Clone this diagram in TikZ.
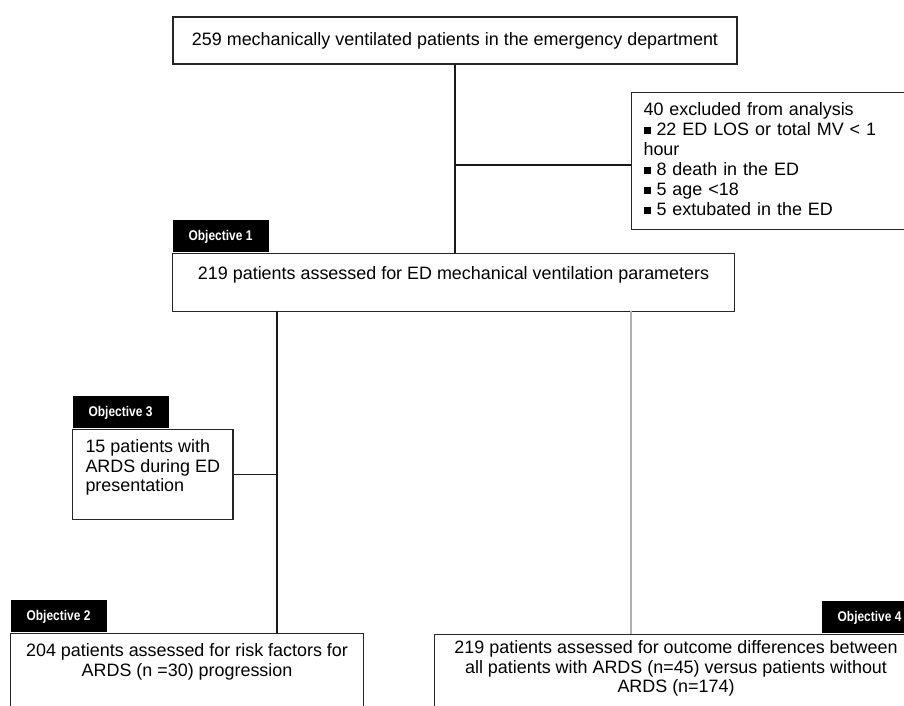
\documentclass[tikz,border=0pt]{standalone}
\usepackage{fontspec}
\setmainfont{Liberation Sans}
\newfontfamily\tabfont[FakeStretch=0.85]{Liberation Sans}
\usetikzlibrary{positioning}
\newcommand{\sqb}{\rule[0.03cm]{0.14cm}{0.14cm}~}

\begin{document}
\begin{tikzpicture}[
    % GLOBAL CFG
    font=\fontsize{10.2}{11.1}\selectfont,
    line width=0.6pt,
    % Styles
    box/.style={% For patient boxes
        rectangle,
        draw=black!85,
        line width=0.6pt,
        inner xsep=0.2cm,
    },
    objtab/.style={% For black objective tabs
        rectangle,
        fill=black,
        text=white,
        font=\tabfont\bfseries\fontsize{8}{9}\selectfont,
        minimum width=1.92cm,
        minimum height=0.64cm,
        inner sep=0pt,
    },
    flow/.style={% For black connectors
        draw=black!90,
        line width=0.6pt,
    },
    flowgray/.style={% For grey connector
        draw=black!30,
        line width=1.3pt,
    },
    ]
    % Page
    \useasboundingbox (0,0) rectangle (18.08,-14.10);
    \clip (0,0) rectangle (18.08,-14.10);

    % Draw boxes
    \node [box, minimum width=11.28cm, minimum height=0.94cm] (start) at (9.10,-0.81)
        {259 mechanically ventilated patients in the emergency department};
    \node [box, anchor=north west, align=left, text width=5.3cm, inner xsep=0.24cm,
        inner ysep=0.2cm, text depth=2.08cm,
        font=\fontsize{10.2}{11.4}\selectfont] (excl) at (12.62,-1.84)
        {40 excluded from analysis\\ \sqb 22 ED LOS or total MV < 1\\ hour\\
         \sqb 8 death in the ED\\ \sqb 5 age <18\\ \sqb 5 extubated in the ED};
    \node [box, anchor=north west, minimum width=11.24cm, inner ysep=0pt,
        text height=0.51cm, text depth=0.65cm] (obj1) at (3.44,-5.06)
        {219 patients assessed for ED mechanical ventilation parameters};
    \node [box, anchor=north west, align=left, minimum width=3.2cm, inner xsep=0.26cm,
        inner ysep=0.2cm, text depth=0.36cm] (obj3) at (1.44,-8.58)
        {15 patients with\\ ARDS during ED\\ presentation};
    \node [box, anchor=north west, align=center, minimum width=7.06cm,
        inner ysep=0.2cm, text depth=1.4cm] (obj2) at (0.20,-12.66)
        {204 patients assessed for risk factors for\\ ARDS (n =30) progression};
    \node [box, anchor=north west, align=center, minimum width=9.66cm,
        inner ysep=0.12cm, text depth=1.4cm] (obj4) at (8.68,-12.68)
        {219 patients assessed for outcome differences between\\
         all patients with ARDS (n=45) versus patients without\\ ARDS (n=174)};

    % Draw objective tabs
    \node [objtab, above right=0cm and 0cm of obj1.north west] (tab1) {Objective 1};
    \node [objtab, above right=0cm and 0cm of obj3.north west] (tab3) {Objective 3};
    \node [objtab, above right=0cm and 0cm of obj2.north west] (tab2) {Objective 2};
    \node [objtab, above left=0cm and 0cm of obj4.north east] (tab4) {Objective 4};

    % Coordinates
    \coordinate (split0) at (9.10,-3.30);
    \coordinate (split1) at (5.54,-6.22);
    \coordinate (split2) at (12.62,-6.22);

    % Connectors
    \draw [flow] (start.south) -- (start.south |- obj1.north);
    \draw [flow] (split0) -- (split0 -| excl.west);
    \draw [flow] (split1) -- (split1 |- obj2.north);
    \draw [flow] (obj3.east) -- (obj3.east -| split1);
    \draw [flowgray] (split2) -- (split2 |- obj4.north);

\end{tikzpicture}
\end{document}
